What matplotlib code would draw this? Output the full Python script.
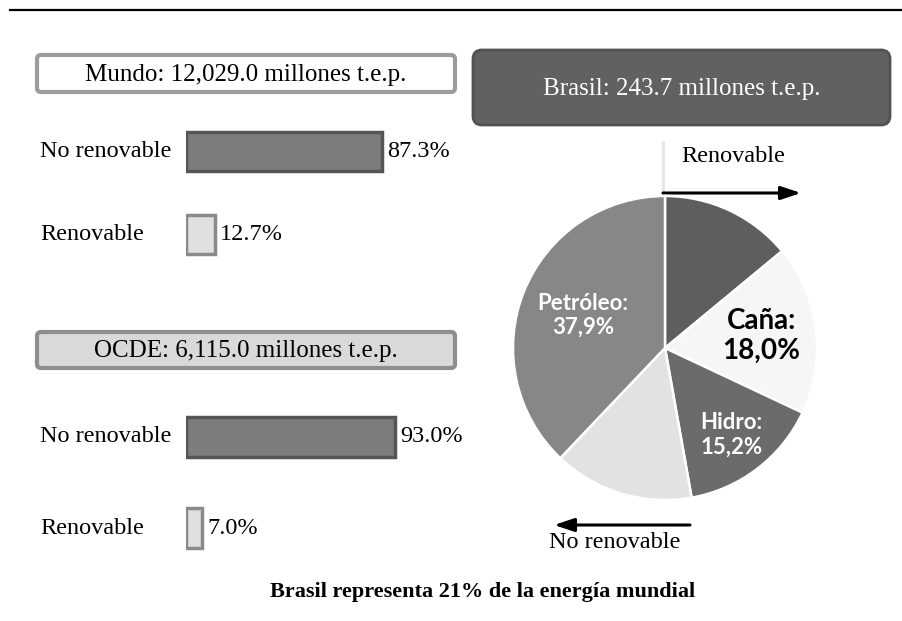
import numpy as np
import matplotlib
matplotlib.use("Agg")
import matplotlib.pyplot as plt
import matplotlib.transforms as mtransforms
from matplotlib.patches import FancyBboxPatch

# data
categorias = ["No renovable", "Renovable"]
mundo = [87.3, 12.7]
ocde = [93.0, 7.0]
mundo_total = "12,029.0"
ocde_total = "6,115.0"
brasil_total = "243.7"

fuentes = ["Otras renovables", "Caña", "Hidro", "Otras no renovables", "Petróleo"]
brasil = [14.0, 18.0, 15.2, 14.9, 37.9]
brasil_etiquetas = [False, True, True, False, True]
brasil_colores = ["#5e5e5e", "#f6f6f6", "#6b6b6b", "#e2e2e2", "#878787"]

serif = "Liberation Serif"
W, H = 903, 621

fig = plt.figure(figsize=(W / 100, H / 100), dpi=100)
fig.patch.set_facecolor("white")

# overlay in pixel coordinates for boxes, lines and captions
ov = fig.add_axes([0, 0, 1, 1])
ov.set_xlim(0, W)
ov.set_ylim(H, 0)
ov.axis("off")

ov.plot([10, W], [10, 10], color="black", lw=1.6)


def caja(x0, y0, x1, y1, fc, ec, texto, color, r=4, lw=3):
    p = FancyBboxPatch((x0, y0), x1 - x0, y1 - y0,
                       boxstyle=f"round,pad=0,rounding_size={r}",
                       fc=fc, ec=ec, lw=lw)
    ov.add_patch(p)
    ov.text((x0 + x1) / 2, (y0 + y1) / 2 + 1, texto, ha="center", va="center",
            fontsize=18, family=serif, color=color)


caja(37, 55, 455, 92, "white", "#9c9c9c",
     f"Mundo: {mundo_total} millones t.e.p.", "black")
caja(37, 332, 455, 368, "#d9d9d9", "#8e8e8e",
     f"OCDE: {ocde_total} millones t.e.p.", "black")
caja(473, 50, 890, 125, "#616161", "#525252",
     f"Brasil: {brasil_total} millones t.e.p.", "white", r=9, lw=2)


# horizontal bars, same scale for both panels
def barras(y_centro, paso, valores, alto_px):
    top = y_centro - paso * 0.5
    ax = fig.add_axes([186 / W, 1 - (top + 2 * paso) / H, 224.5 / W, 2 * paso / H])
    ax.set_xlim(0, 100)
    ax.set_ylim(1.5, -0.5)
    ax.axis("off")
    ax.patch.set_alpha(0)
    alto = alto_px / paso
    ax.barh([0], [valores[0]], height=alto, color="#7d7d7d",
            edgecolor="#555555", lw=2.5)
    ax.barh([1], [valores[1]], height=alto, color="#e0e0e0",
            edgecolor="#8a8a8a", lw=2.5)
    tr = mtransforms.blended_transform_factory(fig.transFigure, ax.transData)
    for i, (cat, v) in enumerate(zip(categorias, valores)):
        ax.text(40 / W, i, cat, transform=tr, ha="left", va="center",
                fontsize=17.5, family=serif)
        ax.annotate(f"{v:.1f}%", (v, i), xytext=(4, 0), textcoords="offset points",
                    ha="left", va="center", fontsize=17.5, family=serif)


barras(152, 83, mundo, 39)
barras(437, 91, ocde, 40)

# Brazil pie
cx, cy, R = 665, 348, 152
pax = fig.add_axes([(cx - 160) / W, 1 - (cy + 160) / H, 320 / W, 320 / H])
wedges, _ = pax.pie(brasil, colors=brasil_colores, startangle=90, counterclock=False,
                    radius=R / 160, wedgeprops=dict(edgecolor="white", lw=1.8))
pax.set_xlim(-1, 1)
pax.set_ylim(-1, 1)
pax.axis("off")

distancias = [0, 0.64, 0.72, 0, 0.58]
for w, nombre, v, mostrar, d in zip(wedges, fuentes, brasil, brasil_etiquetas, distancias):
    if not mostrar:
        continue
    ang = np.deg2rad((w.theta1 + w.theta2) / 2)
    x, y = d * w.r * np.cos(ang), d * w.r * np.sin(ang)
    claro = nombre == "Caña"
    pax.text(x, y, f"{nombre}:\n{v:.1f}%".replace(".", ","), ha="center", va="center",
             fontsize=20 if claro else 16, fontweight="bold", family="Lato",
             color="black" if claro else "white", linespacing=1.2)

# arrows and arrow labels
flecha = dict(arrowstyle="-|>,head_length=1.2,head_width=0.4", color="black",
              lw=2.2, shrinkA=0, shrinkB=0)
ov.plot([663, 663], [142, 196], color="#e6e6e6", lw=2)
ov.annotate("", xy=(801, 193), xytext=(663, 193), arrowprops=flecha)
ov.text(681, 156, "Renovable", ha="left", va="center", fontsize=17.5, family=serif)
ov.annotate("", xy=(554, 525), xytext=(690, 525), arrowprops=flecha)
ov.text(549, 542, "No renovable", ha="left", va="center", fontsize=17.5, family=serif)

ov.text(483, 592, "Brasil representa 21% de la energía mundial", ha="center",
        va="center", fontsize=16, fontweight="bold", family=serif)

fig.savefig("out.png", dpi=100)
